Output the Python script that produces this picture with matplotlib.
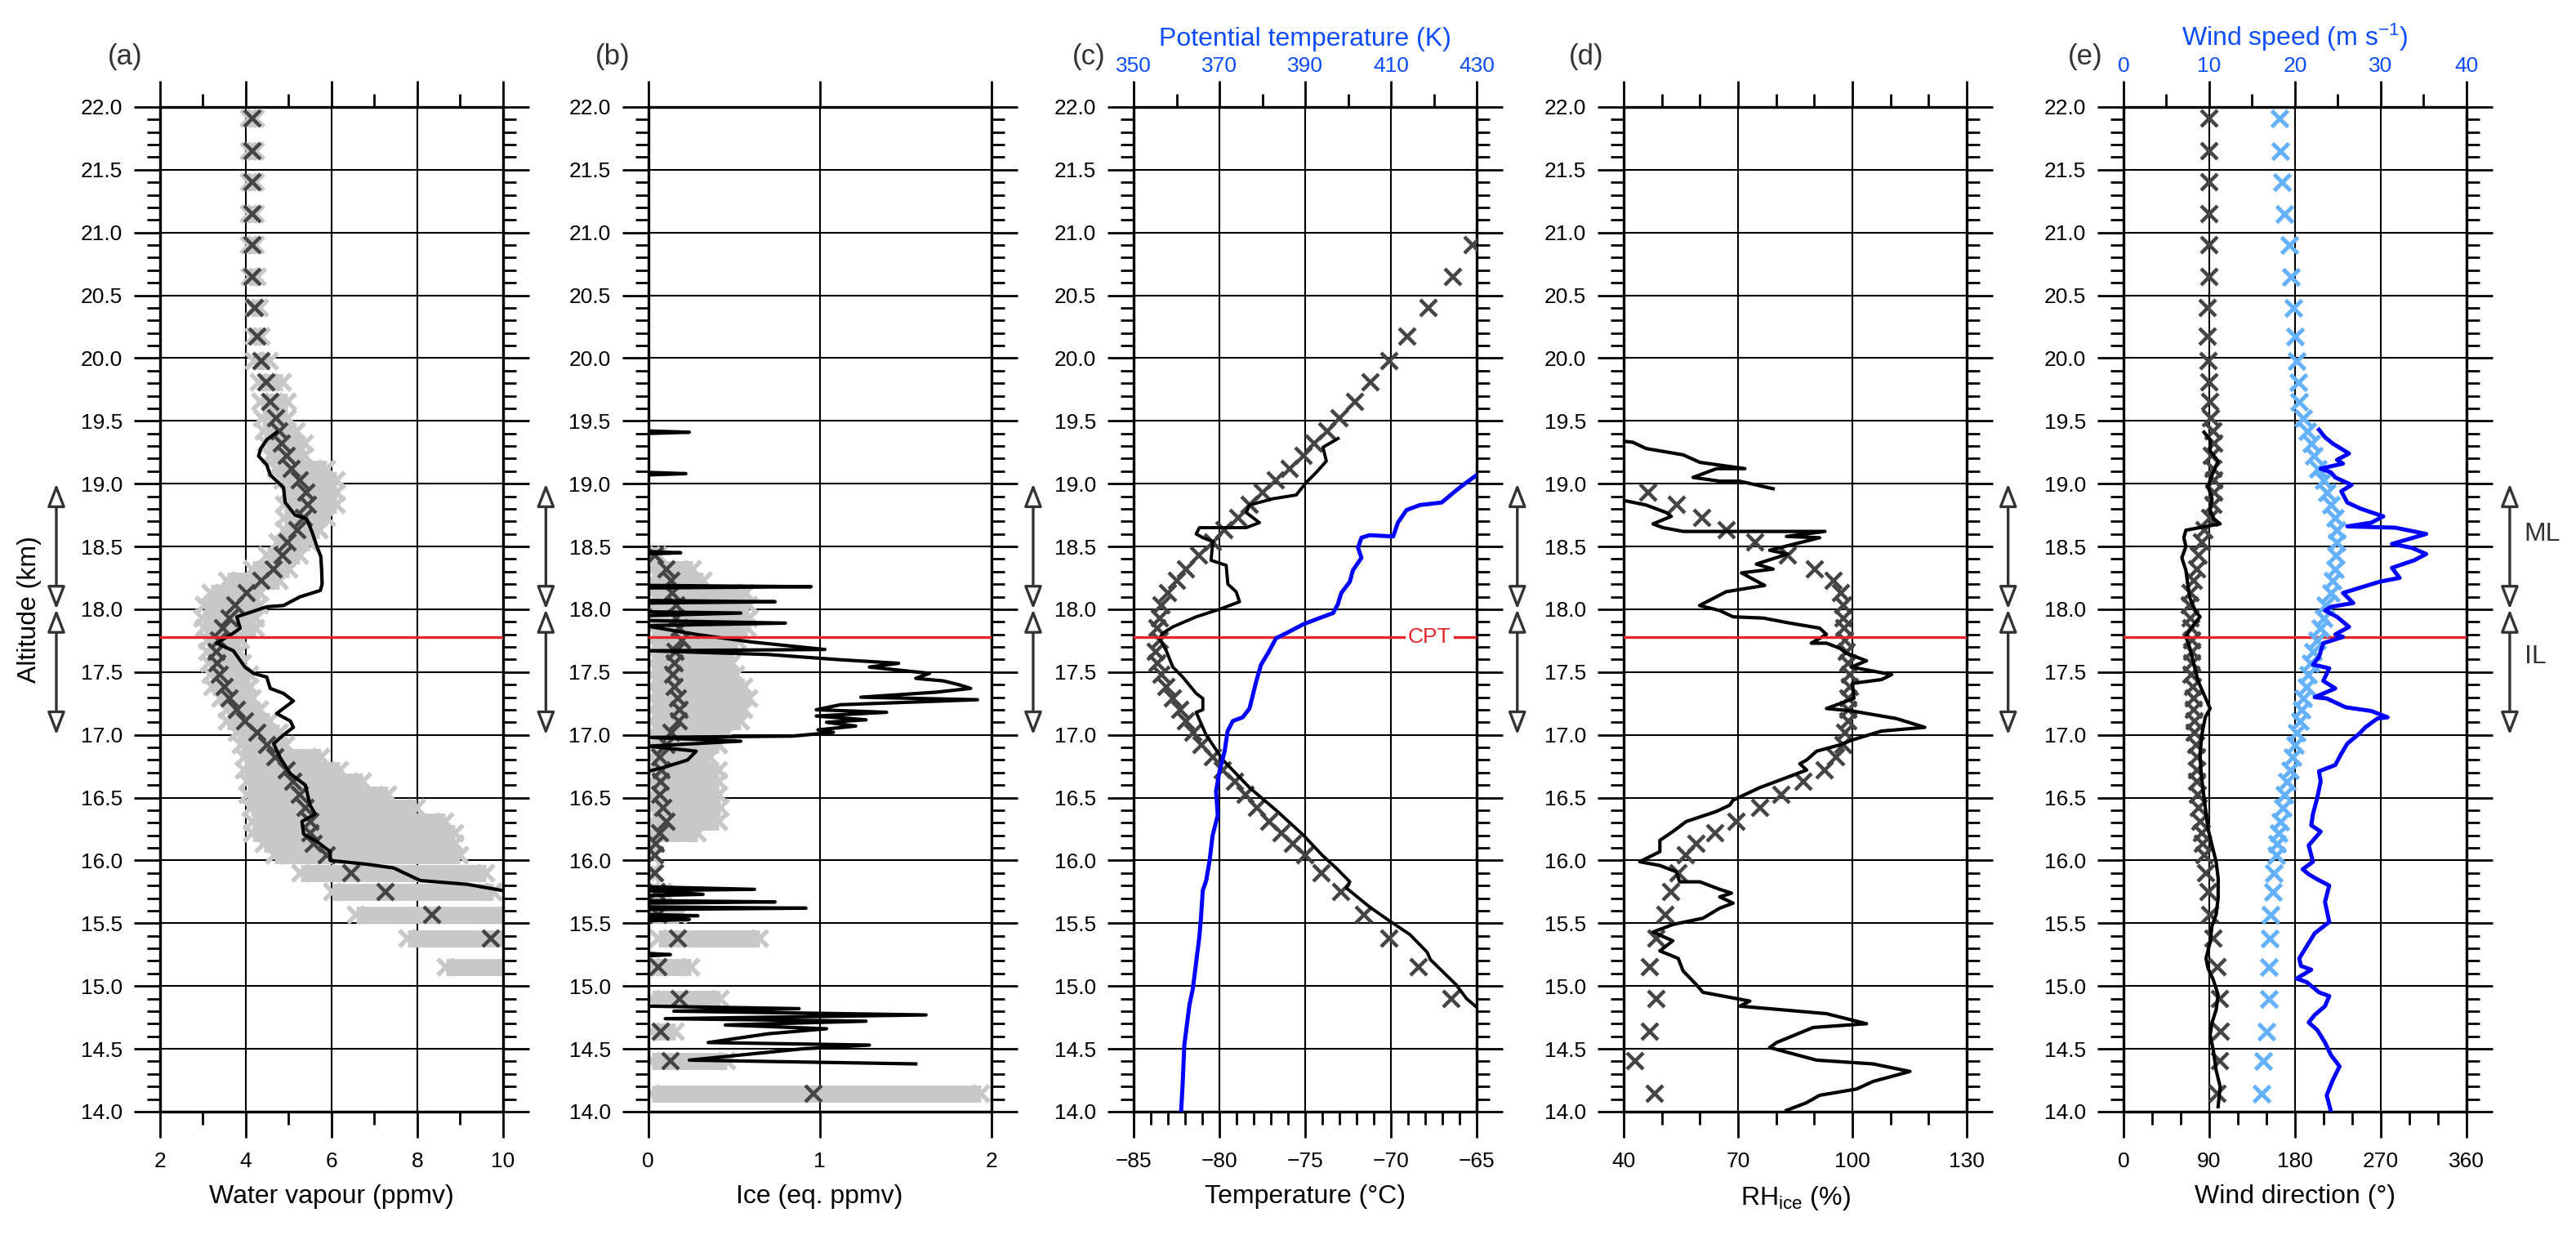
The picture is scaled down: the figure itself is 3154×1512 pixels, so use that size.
import numpy as np
import matplotlib
matplotlib.use("Agg")
import matplotlib.pyplot as plt
from matplotlib.ticker import MultipleLocator, FixedLocator, FormatStrFormatter

plt.rcParams['font.family'] = ['Liberation Sans', 'DejaVu Sans']
plt.rcParams['mathtext.fontset'] = 'custom'
plt.rcParams['mathtext.rm'] = 'Liberation Sans'
plt.rcParams['mathtext.it'] = 'Liberation Sans'

nan = np.nan

# altitude of the reference (model) points, km
alt_pts = [21.91, 21.65, 21.40, 21.15, 20.90, 20.65, 20.40, 20.17, 19.98, 19.81,
           19.65, 19.52, 19.42, 19.32, 19.22, 19.12, 19.03, 18.93, 18.83, 18.73,
           18.63, 18.53, 18.43, 18.32, 18.23, 18.13, 18.03, 17.93, 17.85, 17.75,
           17.66, 17.57, 17.48, 17.38, 17.29, 17.20, 17.11, 17.02, 16.92, 16.82,
           16.72, 16.63, 16.52, 16.42, 16.31, 16.22, 16.13, 16.04, 15.90, 15.75,
           15.57, 15.38, 15.15, 14.90, 14.64, 14.40, 14.14]

# (a) water vapour points + spread
wv_pts = [4.16, 4.16, 4.16, 4.16, 4.16, 4.16, 4.22, 4.27, 4.37, 4.47,
          4.58, 4.71, 4.79, 4.84, 4.96, 5.07, 5.25, 5.41, 5.44, 5.35,
          5.21, 4.97, 4.86, 4.65, 4.36, 4.02, 3.75, 3.62, 3.46, 3.37,
          3.32, 3.34, 3.40, 3.50, 3.63, 3.80, 3.99, 4.26, 4.49, 4.68,
          4.96, 5.11, 5.25, 5.39, 5.50, 5.50, 5.59, 5.88, 6.46, 7.25,
          8.34, 9.72, nan, nan, nan, nan, nan]
wv_lo = [4.08, 4.08, 4.08, 4.08, 4.08, 4.10, 4.19, 4.19, 4.19, 4.31,
         4.35, 4.39, 4.43, 4.47, 4.58, 4.70, 4.85, 4.97, 4.89, 4.89,
         4.89, 4.74, 4.50, 4.15, 3.57, 3.18, 3.03, 2.99, 3.03, 3.10,
         3.10, 3.14, 3.18, 3.22, 3.42, 3.57, 3.57, 3.80, 3.88, 3.96,
         3.96, 4.04, 4.04, 4.12, 4.15, 4.15, 4.43, 4.66, 5.28, 6.02,
         6.57, 7.77, 8.67, nan, nan, nan, nan]
wv_hi = [4.24, 4.24, 4.24, 4.24, 4.24, 4.26, 4.32, 4.36, 4.55, 4.86,
         4.98, 4.98, 5.18, 5.37, 5.37, 5.88, 6.11, 6.11, 6.11, 5.88,
         5.72, 5.49, 5.25, 5.02, 4.79, 4.32, 4.32, 4.24, 4.24, 3.89,
         3.85, 3.93, 4.09, 4.09, 4.16, 4.32, 4.55, 4.79, 4.94, 5.76,
         6.19, 6.73, 7.32, 7.98, 8.64, 8.87, 8.87, 8.99, 9.61, 9.77,
         10.2, 10.2, 10.2, nan, nan, nan, nan]

# (b) ice points + spread
ice_pts = [nan, nan, nan, nan, nan, nan, nan, nan, nan, nan,
           nan, nan, nan, nan, nan, nan, nan, nan, nan, nan,
           nan, nan, 0.04, 0.107, 0.136, 0.14, 0.165, 0.165, 0.185, 0.195,
           0.16, 0.156, 0.146, 0.156, 0.175, 0.185, 0.18, 0.136, 0.107, 0.07,
           0.078, 0.075, 0.068, 0.09, 0.107, 0.068, 0.045, 0.039, 0.039, 0.05,
           0.058, 0.175, 0.058, 0.185, 0.072, 0.13, 0.963]
ice_lo = [nan] * 22 + [0.02] * 29 + [0.06, 0.02, 0.02, 0.02, 0.02, 0.02]
ice_hi = [nan, nan, nan, nan, nan, nan, nan, nan, nan, nan,
          nan, nan, nan, nan, nan, nan, nan, nan, nan, nan,
          nan, nan, 0.06, 0.26, 0.32, 0.57, 0.59, 0.59, 0.58, 0.52,
          0.46, 0.49, 0.51, 0.56, 0.59, 0.56, 0.54, 0.46, 0.41, 0.36,
          0.41, 0.41, 0.41, 0.42, 0.41, 0.29, 0.03, 0.02, 0.03, 0.09,
          0.18, 0.65, 0.25, 0.42, 0.16, 0.46, 1.94]

# (c) temperature points
t_pts = [nan, nan, nan, nan, -65.25, -66.4, -67.84, -69.05, -70.1, -71.2,
         -72.1, -73.0, -73.7, -74.46, -75.08, -75.9, -76.7, -77.5, -78.25, -78.9,
         -79.7, -80.4, -81.2, -81.95, -82.5, -83.0, -83.4, -83.5, -83.6, -83.5,
         -83.7, -83.6, -83.4, -83.1, -82.7, -82.3, -81.95, -81.55, -81.07, -80.4,
         -79.8, -79.1, -78.5, -77.8, -77.1, -76.4, -75.7, -75.0, -74.07, -72.9,
         -71.6, -70.1, -68.4, -66.5, nan, nan, nan]

# (d) RHice points
rh_pts = [nan, nan, nan, nan, nan, nan, nan, nan, nan, nan,
          nan, nan, nan, nan, nan, nan, nan, 46.4, 54.0, 60.6,
          66.9, 74.4, 83.1, 90.1, 95.0, 96.9, 97.6, 97.6, 97.8, 98.0,
          98.5, 98.9, 99.3, 99.3, 99.0, 98.9, 98.9, 98.0, 97.6, 95.8,
          92.8, 87.1, 81.4, 75.7, 69.6, 63.9, 59.1, 56.3, 54.3, 52.5,
          50.9, 48.6, 46.8, 48.6, 46.8, 42.9, 48.1]

# (e) wind direction / speed points
wd_pts = [90, 90, 90, 90, 90, 90, 88, 88, 89, 90,
          91, 92, 94, 95, 93, 94, 95, 95, 94, 91,
          84.6, 82.5, 79, 77.4, 74, 70.6, 69.8, 70, 71, 72,
          72, 72, 71, 73, 74, 74, 75, 75, 76, 77,
          77, 77.5, 78, 79, 80.5, 82, 83.5, 85, 87, 89,
          91, 94, 99, 101, 102, 101, 99]
ws_pts = [18.2, 18.3, 18.5, 18.8, 19.3, 19.5, 19.8, 20.0, 20.2, 20.4,
          20.5, 21.0, 21.4, 21.9, 22.2, 22.7, 23.3, 23.7, 24.2, 24.7,
          24.9, 24.9, 24.8, 24.7, 24.4, 24.2, 23.5, 23.3, 23.0, 22.6,
          22.1, 21.8, 21.5, 21.3, 21.0, 20.8, 20.6, 20.2, 20.0, 19.7,
          19.4, 19.1, 18.8, 18.6, 18.3, 18.1, 17.9, 17.8, 17.5, 17.4,
          17.2, 17.1, 17.0, 17.0, 16.7, 16.3, 16.1]

# balloon profiles
wv_alt = [19.41, 19.35, 19.28, 19.22, 19.15, 19.07, 18.97, 18.85, 18.75, 18.72,
          18.62, 18.50, 18.42, 18.31, 18.20, 18.15, 18.10, 18.03, 18.02, 17.94,
          17.85, 17.81, 17.73, 17.67, 17.54, 17.49, 17.46, 17.37, 17.33, 17.27,
          17.17, 17.11, 17.06, 17.00, 16.93, 16.82, 16.69, 16.60, 16.44, 16.37,
          16.31, 16.21, 16.15, 16.07, 16.00, 15.97, 15.94, 15.84, 15.81, 15.76]
wv_val = [4.72, 4.49, 4.35, 4.30, 4.49, 4.57, 4.88, 4.92, 5.15, 5.42,
          5.54, 5.66, 5.75, 5.77, 5.78, 5.74, 5.27, 4.88, 4.49, 3.79,
          3.87, 3.71, 3.32, 3.71, 3.98, 4.18, 4.49, 4.57, 4.88, 5.11,
          4.72, 5.04, 5.11, 4.88, 4.65, 4.80, 5.04, 5.39, 5.50, 5.62,
          5.31, 5.35, 5.66, 5.97, 5.97, 6.82, 7.45, 8.07, 9.16, 10.0]

ice_alt = [19.42, 19.41, 19.40, 19.09, 19.08, 19.07, 18.46, 18.45, 18.44, 18.19,
           18.18, 18.17, 18.07, 18.06, 18.05, 17.98, 17.97, 17.95, 17.91, 17.89,
           17.87, 17.86, 17.80, 17.74, 17.68, 17.67, 17.64, 17.60, 17.57, 17.54,
           17.49, 17.45, 17.43, 17.40, 17.37, 17.34, 17.30, 17.28, 17.24, 17.20,
           17.18, 17.15, 17.12, 17.10, 17.07, 17.04, 17.02, 16.99, 16.98, 16.95,
           16.91, 16.87, 16.80, 16.74, 16.71, 15.79, 15.77, 15.76, 15.73, 15.72,
           15.68, 15.67, 15.66, 15.63, 15.62, 15.61, 15.57, 15.56, 15.55, 15.53,
           15.52, 15.26, 15.25, 15.24, 14.84, 14.82, 14.80, 14.77, 14.74, 14.72,
           14.69, 14.66, 14.62, 14.55, 14.53, 14.50, 14.41, 14.38]
ice_val = [0.0, 0.24, 0.0, 0.0, 0.22, 0.0, 0.0, 0.19, 0.0, 0.0,
           0.95, 0.0, 0.0, 0.74, 0.0, 0.0, 0.54, 0.0, 0.0, 0.80,
           0.0, 0.02, 0.28, 0.60, 1.03, 0.0, 0.70, 1.10, 1.46, 1.29,
           1.64, 1.56, 1.72, 1.81, 1.88, 1.68, 1.24, 1.92, 1.12, 0.98,
           1.39, 0.98, 1.27, 1.04, 1.21, 0.99, 1.08, 0.84, 0.0, 0.54,
           0.0, 0.28, 0.23, 0.09, 0.0, 0.0, 0.62, 0.0, 0.32, 0.0,
           0.0, 0.74, 0.0, 0.0, 0.92, 0.0, 0.0, 0.29, 0.0, 0.24,
           0.0, 0.0, 0.13, 0.0, 0.0, 0.88, 0.15, 1.62, 0.10, 1.27,
           0.45, 1.04, 0.70, 0.35, 1.29, 0.90, 0.24, 1.56]

t_alt = [19.36, 19.29, 19.18, 19.09, 19.01, 18.91, 18.88, 18.83, 18.77, 18.69,
         18.65, 18.65, 18.60, 18.57, 18.54, 18.39, 18.35, 18.20, 18.14, 18.06,
         18.00, 17.94, 17.86, 17.81, 17.77, 17.67, 17.54, 17.46, 17.33, 17.29,
         17.20, 17.18, 17.00, 16.80, 16.58, 16.40, 16.20, 16.04, 15.94, 15.83,
         15.78, 15.63, 15.52, 15.41, 15.27, 15.21, 15.01, 14.90, 14.83]
t_val = [-73.09, -73.97, -73.77, -74.36, -74.94, -75.53, -76.89, -78.25, -78.44, -77.67,
         -78.44, -81.17, -81.36, -80.97, -80.39, -80.49, -79.61, -79.51, -79.03, -78.83,
         -80.0, -81.36, -82.72, -83.3, -83.5, -83.1, -82.72, -82.14, -81.36, -80.97,
         -80.97, -81.36, -80.78, -79.8, -78.25, -76.7, -75.1, -74.0, -73.2, -72.4,
         -72.6, -71.25, -70.1, -68.9, -67.9, -67.7, -66.2, -65.6, -65.0]

th_alt = [19.07, 19.01, 18.95, 18.85, 18.83, 18.79, 18.69, 18.58, 18.59, 18.57,
          18.49, 18.41, 18.31, 18.22, 18.13, 18.04, 17.97, 17.93, 17.88, 17.81,
          17.77, 17.65, 17.56, 17.43, 17.32, 17.21, 17.14, 17.11, 17.03, 16.87,
          16.71, 16.55, 16.36, 16.20, 16.00, 15.84, 15.76, 15.55, 15.39, 15.20,
          14.98, 14.85, 14.53, 14.21, 13.97]
th_val = [430.0, 427.6, 425.3, 421.8, 416.7, 413.6, 411.6, 410.5, 405.0, 403.1,
          402.3, 403.1, 401.1, 400.4, 398.4, 397.6, 396.5, 393.3, 389.5, 385.6,
          383.2, 381.3, 379.7, 378.6, 377.8, 377.0, 375.4, 373.1, 371.9, 371.2,
          370.0, 369.2, 369.6, 368.4, 367.7, 366.9, 366.1, 365.7, 365.3, 364.6,
          363.8, 363.0, 361.8, 361.4, 361.0]

rh_alt = [19.34, 19.33, 19.28, 19.23, 19.17, 19.12, 19.12, 19.05, 19.02, 19.02,
          18.96, 18.92, 18.87, 18.83, 18.77, 18.74, 18.68, 18.65, 18.62, 18.62,
          18.58, 18.57, 18.47, 18.44, 18.36, 18.32, 18.29, 18.24, 18.19, 18.14,
          18.03, 17.99, 17.94, 17.93, 17.89, 17.85, 17.80, 17.73, 17.73, 17.69,
          17.65, 17.59, 17.54, 17.48, 17.44, 17.41, 17.29, 17.21, 17.19, 17.13,
          17.06, 17.03, 16.96, 16.92, 16.87, 16.80, 16.77, 16.72, 16.64, 16.58,
          16.48, 16.44, 16.39, 16.31, 16.23, 16.16, 16.07, 15.99, 15.96, 15.91,
          15.83, 15.83, 15.77, 15.74, 15.71, 15.66, 15.62, 15.54, 15.49, 15.43,
          15.36, 15.28, 15.22, 15.12, 15.01, 14.95, 14.88, 14.84, 14.78, 14.70,
          14.67, 14.55, 14.51, 14.41, 14.38, 14.32, 14.24, 14.18, 14.13, 14.07,
          14.01]
rh_val = [39.5, 42.4, 45.9, 55.6, 60.0, 71.8, 64.4, 58.2, 65.2, 70.4,
          79.2, nan, 39.5, 45.9, 51.2, 52.5, 47.7, 50.3, 55.6, 92.8,
          82.7, 91.4, 78.3, 83.0, 74.8, 79.2, 70.9, 73.9, 77.0, 66.9,
          59.9, 65.2, 68.7, 76.6, 83.6, 91.4, 93.2, 89.2, 93.2, 96.7,
          98.4, 103.7, 99.7, 110.3, 107.6, 100.0, 100.4, 93.2, 100.0, 111.5,
          119.0, 107.6, 100.0, 96.7, 90.6, 88.0, 86.2, 88.0, 81.0, 75.7,
          68.7, 67.8, 64.3, 56.4, 52.9, 49.5, 49.5, 44.2, 49.5, 53.8,
          54.7, 60.0, 65.2, 68.3, 65.2, 68.7, 65.2, 60.8, 52.9, 47.7,
          52.9, 49.5, 54.3, 55.6, 59.1, 60.8, 73.1, 70.5, 93.2, 103.7,
          89.7, 80.1, 78.3, 90.6, 105.4, 115.1, 105.4, 101.1, 91.4, 87.9,
          82.7]

wd_alt = [19.41, 19.35, 19.26, 19.18, 19.07, 18.98, 18.88, 18.79, 18.72, 18.68,
          18.66, 18.63, 18.57, 18.50, 18.41, 18.31, 18.19, 18.09, 17.98, 17.94,
          17.88, 17.81, 17.78, 17.69, 17.56, 17.43, 17.32, 17.21, 17.14, 17.01,
          16.85, 16.69, 16.50, 16.25, 16.12, 15.99, 15.86, 15.70, 15.57, 15.48,
          15.35, 15.22, 15.14, 15.05, 14.93, 14.81, 14.71, 14.61, 14.49, 14.33,
          14.20, 14.04]
wd_val = [84.6, 91, 91, 99.4, 93, 88.8, 93, 91, 95, 101.5,
          86.7, 65.6, 63.4, 65.6, 61.3, 65.6, 67.7, 69.8, 76, 80.4,
          74, 67.7, 65.6, 69.8, 74, 78.3, 84.6, 91, 85.9, 82.5,
          80.4, 81.6, 84.6, 88.8, 93, 97.3, 99.4, 99.4, 97.3, 93,
          91, 86.7, 88.8, 94.3, 99.4, 97.3, 93, 91, 94.3, 97.3,
          101.5, 99.4]

ws_alt = [19.43, 19.37, 19.32, 19.27, 19.24, 19.19, 19.16, 19.12, 19.09, 19.05,
          18.99, 18.94, 18.85, 18.80, 18.74, 18.69, 18.66, 18.65, 18.60, 18.52,
          18.49, 18.44, 18.39, 18.33, 18.25, 18.22, 18.17, 18.13, 18.05, 18.02,
          17.99, 17.94, 17.86, 17.80, 17.78, 17.73, 17.62, 17.56, 17.53, 17.43,
          17.37, 17.30, 17.29, 17.22, 17.19, 17.14, 17.13, 17.06, 17.01, 16.93,
          16.85, 16.76, 16.71, 16.63, 16.50, 16.37, 16.28, 16.23, 16.12, 15.99,
          15.93, 15.89, 15.85, 15.80, 15.67, 15.51, 15.42, 15.32, 15.22, 15.16,
          15.13, 15.06, 15.03, 14.95, 14.92, 14.84, 14.77, 14.71, 14.65, 14.55,
          14.45, 14.36, 14.25, 14.13, 14.00]
ws_val = [22.8, 23.5, 24.4, 25.6, 26.3, 24.9, 25.6, 23.0, 24.2, 24.7,
          26.6, 25.4, 26.1, 27.7, 30.3, 28.9, 26.1, 31.7, 35.3, 31.3,
          33.6, 35.3, 33.9, 31.3, 32.2, 29.9, 27.5, 25.6, 26.8, 24.2,
          23.5, 24.9, 26.3, 24.7, 25.6, 23.3, 22.8, 22.1, 24.0, 23.3,
          24.7, 22.3, 23.7, 25.9, 28.9, 30.8, 29.6, 28.2, 27.5, 26.1,
          25.4, 24.7, 22.8, 23.0, 22.6, 22.1, 21.9, 23.0, 21.6, 22.1,
          20.9, 21.6, 22.6, 24.0, 23.5, 24.0, 22.3, 21.4, 20.5, 20.7,
          21.9, 20.2, 21.4, 22.8, 24.0, 23.5, 22.3, 21.6, 22.6, 23.5,
          24.2, 25.2, 24.4, 23.7, 24.2]

cpt_alt = 17.78

# tick positions that do not start at a multiple of the step
theta_major = [350, 370, 390, 410, 430]
theta_minor = [360, 380, 400, 420]
rh_major = [40, 70, 100, 130]
rh_minor = [50, 60, 80, 90, 110, 120]

# look
dark = '#444444'
band = '#c8c8c8'
lblue = '#63b1ff'
blue = '#0000ff'
tblue = '#0d4dff'
red = '#e3262b'
arrow_col = '#333333'

fig = plt.figure(figsize=(15.77, 7.56), dpi=200)
lefts = [0.0621, 0.2516, 0.4401, 0.6303, 0.8243]
axes = [fig.add_axes([l, 0.0999, 0.1332, 0.8135]) for l in lefts]


def setup(ax, xlim, major, minor=None, top=True):
    ax.set_xlim(*xlim)
    ax.set_ylim(14, 22)
    ax.xaxis.set_major_locator(major)
    if minor is not None:
        ax.xaxis.set_minor_locator(minor)
    ax.yaxis.set_major_locator(MultipleLocator(0.5))
    ax.yaxis.set_minor_locator(MultipleLocator(0.1))
    ax.yaxis.set_major_formatter(FormatStrFormatter('%.1f'))
    ax.tick_params(which='both', direction='out', left=True, right=True,
                   top=top, bottom=True, width=1.0, labelsize=9.5)
    ax.tick_params(which='major', length=11.5)
    ax.tick_params(which='minor', length=5.8)
    ax.tick_params(axis='y', pad=5)
    ax.tick_params(axis='x', pad=6)
    ax.grid(which='major', color='k', lw=0.75)
    ax.set_axisbelow(True)
    for s in ax.spines.values():
        s.set_linewidth(1.2)


def top_axis(ax, xlim, major, minor, label):
    ax2 = ax.twiny()
    ax2.set_xlim(*xlim)
    ax2.xaxis.set_major_locator(major)
    ax2.xaxis.set_minor_locator(minor)
    ax2.tick_params(axis='x', which='both', direction='out', top=True, bottom=False,
                    width=1.0, labelsize=9.5, labelcolor=tblue, pad=2)
    ax2.tick_params(which='major', length=11.5)
    ax2.tick_params(which='minor', length=5.8)
    ax2.set_xlabel(label, color=tblue, fontsize=11.5, labelpad=5)
    for s in ax2.spines.values():
        s.set_visible(False)
    return ax2


def spread(ax, lo, hi):
    ax.hlines(alt_pts, lo, hi, colors=band, lw=7.5, capstyle='butt', zorder=2)
    ax.plot(lo, alt_pts, 'x', color=band, ms=7, mew=2, zorder=2)
    ax.plot(hi, alt_pts, 'x', color=band, ms=7, mew=2, zorder=2)


def pts(ax, x, col=dark):
    ax.plot(x, alt_pts, 'x', color=col, ms=7, mew=1.6, zorder=3)


def arrows(ax, xf):
    tr = ax.get_yaxis_transform()
    for a, b in [(19.0, 18.0), (18.0, 17.0)]:
        ax.annotate('', xy=(xf, a), xytext=(xf, b), xycoords=tr, textcoords=tr,
                    annotation_clip=False,
                    arrowprops=dict(arrowstyle='<|-|>,head_length=0.85,head_width=0.33',
                                    fc='white', ec=arrow_col, lw=1.2,
                                    shrinkA=0, shrinkB=0))


# (a) water vapour
ax = axes[0]
setup(ax, (2, 10), MultipleLocator(2), MultipleLocator(1))
spread(ax, wv_lo, wv_hi)
pts(ax, wv_pts)
ax.plot(wv_val, wv_alt, color='k', lw=1.5, zorder=4)
ax.set_xlabel('Water vapour (ppmv)', fontsize=11.5, labelpad=6)
ax.set_ylabel('Altitude (km)', fontsize=11.5, labelpad=17)

# (b) ice
ax = axes[1]
setup(ax, (0, 2), MultipleLocator(1))
spread(ax, ice_lo, ice_hi)
pts(ax, ice_pts)
ax.plot(ice_val, ice_alt, color='k', lw=1.5, zorder=4)
ax.set_xlabel('Ice (eq. ppmv)', fontsize=11.5, labelpad=6)

# (c) temperature + potential temperature
ax = axes[2]
setup(ax, (-85, -65), MultipleLocator(5), MultipleLocator(1), top=False)
pts(ax, t_pts)
ax.plot(t_val, t_alt, color='k', lw=1.4, zorder=4)
ax.set_xlabel('Temperature (°C)', fontsize=11.5, labelpad=6)
ax2 = top_axis(ax, (350, 430), FixedLocator(theta_major), FixedLocator(theta_minor),
               'Potential temperature (K)')
ax2.plot(th_val, th_alt, color=blue, lw=1.8, zorder=4)
ax.axhline(cpt_alt, xmin=0, xmax=0.787, color=red, lw=1.2, zorder=5)
ax.axhline(cpt_alt, xmin=0.936, xmax=1, color=red, lw=1.2, zorder=5)
ax.text(-67.75, cpt_alt, 'CPT', color=red, fontsize=9.5, ha='center', va='center', zorder=5)

# (d) RH ice
ax = axes[3]
setup(ax, (40, 130), FixedLocator(rh_major), FixedLocator(rh_minor))
pts(ax, rh_pts)
ax.plot(rh_val, rh_alt, color='k', lw=1.5, zorder=4)
ax.set_xlabel(r'RH$_{\mathregular{ice}}$ (%)', fontsize=11.5, labelpad=6)

# (e) wind
ax = axes[4]
setup(ax, (0, 360), MultipleLocator(90), MultipleLocator(30), top=False)
pts(ax, wd_pts)
ax.plot(wd_val, wd_alt, color='k', lw=1.5, zorder=4)
ax.set_xlabel('Wind direction (°)', fontsize=11.5, labelpad=6)
ax2 = top_axis(ax, (0, 40), MultipleLocator(10), MultipleLocator(5),
               r'Wind speed (m s$^{\mathregular{-1}}$)')
ax2.plot(ws_pts, alt_pts, 'x', color=lblue, ms=7, mew=1.8, zorder=3)
ax2.plot(ws_val, ws_alt, color=blue, lw=1.8, zorder=4)

for i in [0, 1, 3, 4]:
    axes[i].axhline(cpt_alt, color=red, lw=1.2, zorder=5)

# panel letters, layer arrows
letters = ['(a)', '(b)', '(c)', '(d)', '(e)']
letter_x = [-0.102, -0.104, -0.131, -0.11, -0.112]
arrow_x = [-0.302, -0.298, -0.293, -0.31, -0.336]
for ax, s, lx, axx in zip(axes, letters, letter_x, arrow_x):
    ax.text(lx, 1.05, s, transform=ax.transAxes, ha='center', va='center',
            fontsize=12.5, color='#333333')
    arrows(ax, axx)
arrows(axes[4], 1.126)
tr = axes[4].get_yaxis_transform()
axes[4].text(1.22, 18.6, 'ML', transform=tr, ha='center', va='center',
             fontsize=11.5, color='#333333')
axes[4].text(1.20, 17.62, 'IL', transform=tr, ha='center', va='center',
             fontsize=11.5, color='#333333')

fig.savefig('out.png', dpi=200)
